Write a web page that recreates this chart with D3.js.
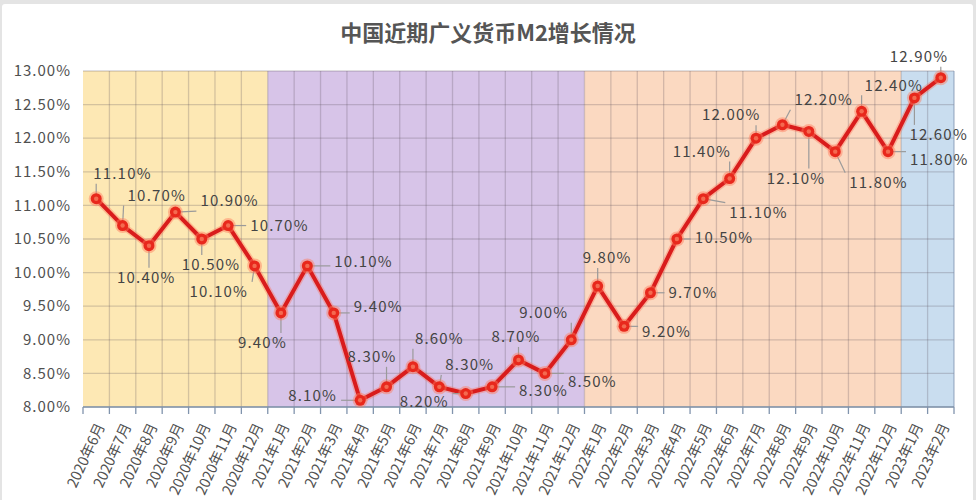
<!DOCTYPE html>
<html>
<head>
<meta charset="utf-8">
<script src="https://cdn.jsdelivr.net/npm/d3@7"></script>
<style>
  body { margin: 0; background: #e4e4e4; }
  svg { display: block; }
</style>
</head>
<body>
<script>
// M2 同比增速 (%), 2020年6月 - 2023年2月
const months = [
  "2020年6月","2020年7月","2020年8月","2020年9月","2020年10月","2020年11月","2020年12月",
  "2021年1月","2021年2月","2021年3月","2021年4月","2021年5月","2021年6月","2021年7月",
  "2021年8月","2021年9月","2021年10月","2021年11月","2021年12月",
  "2022年1月","2022年2月","2022年3月","2022年4月","2022年5月","2022年6月","2022年7月",
  "2022年8月","2022年9月","2022年10月","2022年11月","2022年12月",
  "2023年1月","2023年2月"
];
const m2 = [
  11.1, 10.7, 10.4, 10.9, 10.5, 10.7, 10.1,
  9.4, 10.1, 9.4, 8.1, 8.3, 8.6, 8.3, 8.2, 8.3, 8.7, 8.5, 9.0,
  9.8, 9.2, 9.7, 10.5, 11.1, 11.4, 12.0, 12.2, 12.1, 11.8, 12.4, 11.8,
  12.6, 12.9
];
const yTicks = [8, 8.5, 9, 9.5, 10, 10.5, 11, 11.5, 12, 12.5, 13];
// year bands: first month, last month
const years = [
  ["2020年6月", "2020年12月"],
  ["2021年1月", "2021年12月"],
  ["2022年1月", "2022年12月"],
  ["2023年1月", "2023年2月"]
];
const bandColors = ["#fde8b4", "#d7c4e8", "#fbd9c1", "#c9ddef"];

// label placement (dx, dy from point)
const labelOff = [
  [-3,-25],[5,-30],[-32,32],[25,-11],[-20,26],[22,0],[-65,26],
  [-43,30],[27,-4],[20,-6],[-72,-5],[-39,-30],[2,-28],[6,-22],
  [-66,8],[27,4],[-27,-23],[23,8],[-52,-27],
  [-15,-28],[18,5],[18,0],[18,-1],[26,14],[-57,-27],[-54,-23],
  [12,-25],[-42,47],[14,31],[3,-26],[22,8],
  [-5,37],[-51,-21]
];

const W = 976, H = 500;
const mLeft = 83, mRight = 954, mTop = 71, mBottom = 407;
const font = "'Noto Sans CJK SC', sans-serif";

const svg = d3.select("body").append("svg")
  .attr("width", W)
  .attr("height", H);

// frame
svg.append("rect")
  .attr("x", 2).attr("y", 4)
  .attr("width", 971).attr("height", H)
  .attr("rx", 3)
  .attr("fill", "#fff");

const x = d3.scaleBand().domain(months).range([mLeft, mRight]).paddingInner(0).paddingOuter(0);
const y = d3.scaleLinear().domain([8, 13]).range([mBottom, mTop]);

// background bands per year
svg.append("g").selectAll("rect")
  .data(years)
  .enter()
  .append("rect")
  .attr("x", d => x(d[0]))
  .attr("y", mTop)
  .attr("width", d => x(d[1]) + x.bandwidth() - x(d[0]))
  .attr("height", mBottom - mTop)
  .attr("fill", (d, i) => bandColors[i]);

// grid
const grid = svg.append("g")
  .attr("stroke", "rgba(90,80,90,0.25)")
  .attr("stroke-width", 1.3);
grid.selectAll("line.h")
  .data(yTicks)
  .enter()
  .append("line")
  .attr("x1", mLeft).attr("x2", mRight)
  .attr("y1", d => y(d)).attr("y2", d => y(d));
grid.selectAll("line.v")
  .data(months.slice(1))
  .enter()
  .append("line")
  .attr("x1", d => x(d)).attr("x2", d => x(d))
  .attr("y1", mTop).attr("y2", mBottom);
grid.append("line")
  .attr("x1", mRight).attr("x2", mRight)
  .attr("y1", mTop).attr("y2", mBottom)
  .attr("stroke", "rgba(120,140,170,0.6)");

// y axis labels
svg.append("g").selectAll("text")
  .data(yTicks)
  .enter()
  .append("text")
  .attr("x", 71)
  .attr("y", d => y(d))
  .attr("dy", "0.35em")
  .attr("text-anchor", "end")
  .attr("font-family", font)
  .attr("font-size", 15)
  .attr("letter-spacing", 1)
  .attr("fill", "#505050")
  .text(d => d.toFixed(2) + "%");

// x axis
const xAxis = svg.append("g")
  .attr("transform", `translate(0,${mBottom})`);
xAxis.append("line")
  .attr("x1", mLeft).attr("x2", mRight)
  .attr("stroke", "#8194ad").attr("stroke-width", 1.5);
xAxis.selectAll("line.tick")
  .data(months.concat(["end"]))
  .enter()
  .append("line")
  .attr("x1", (d, i) => mLeft + i * x.bandwidth())
  .attr("x2", (d, i) => mLeft + i * x.bandwidth())
  .attr("y1", 0).attr("y2", 7)
  .attr("stroke", "#8194ad").attr("stroke-width", 1.3);
xAxis.selectAll("text")
  .data(months)
  .enter()
  .append("text")
  .attr("transform", d => `translate(${x(d) + x.bandwidth() / 2 + 9},${19}) rotate(-65)`)
  .attr("text-anchor", "end")
  .attr("font-family", font)
  .attr("font-size", 14.5)
  .attr("fill", "#505050")
  .text(d => d);

const cx = d => x(d) + x.bandwidth() / 2;

// line
const line = d3.line()
  .x((d, i) => cx(months[i]))
  .y(d => y(d));
svg.append("path")
  .datum(m2)
  .attr("d", line)
  .attr("fill", "none")
  .attr("stroke", "#ff6a50")
  .attr("stroke-opacity", 0.35)
  .attr("stroke-width", 7)
  .attr("stroke-linejoin", "round");
svg.append("path")
  .datum(m2)
  .attr("d", line)
  .attr("fill", "none")
  .attr("stroke", "#d91c1c")
  .attr("stroke-width", 4)
  .attr("stroke-linejoin", "round");

// data labels with leader lines
const labels = svg.append("g");
m2.forEach((v, i) => {
  const px = cx(months[i]), py = y(v);
  const lx = px + labelOff[i][0], ly = py + labelOff[i][1];
  const t = labels.append("text")
    .attr("x", lx)
    .attr("y", ly)
    .attr("dy", "0.35em")
    .attr("font-family", font)
    .attr("font-size", 15)
    .attr("letter-spacing", 1.2)
    .attr("fill", "#444")
    .text(v.toFixed(2) + "%");
  const w = t.node().getComputedTextLength();
  // nearest point of padded label box
  const bx = Math.max(lx - 4, Math.min(px, lx + w + 4));
  const by = Math.max(ly - 10, Math.min(py, ly + 10));
  const dist = Math.hypot(bx - px, by - py);
  if (dist > 8) {
    labels.insert("line", "text")
      .attr("x1", px).attr("y1", py)
      .attr("x2", bx).attr("y2", by)
      .attr("stroke", "#9a9a9a")
      .attr("stroke-width", 1.2);
  }
});

// markers
const pts = svg.append("g").selectAll("g")
  .data(m2)
  .enter()
  .append("g")
  .attr("transform", (d, i) => `translate(${cx(months[i])},${y(d)})`);
pts.append("circle")
  .attr("r", 7.5)
  .attr("fill", "#ff7a5a")
  .attr("fill-opacity", 0.45);
pts.append("circle")
  .attr("r", 5.5)
  .attr("fill", "#e8281c");
pts.append("circle")
  .attr("r", 2.2)
  .attr("fill", "#f46a50");

// title
svg.append("text")
  .attr("x", 488)
  .attr("y", 41)
  .attr("text-anchor", "middle")
  .attr("font-family", font)
  .attr("font-weight", "bold")
  .attr("font-size", 22)
  .attr("fill", "#555")
  .text("中国近期广义货币M2增长情况");
</script>
</body>
</html>
